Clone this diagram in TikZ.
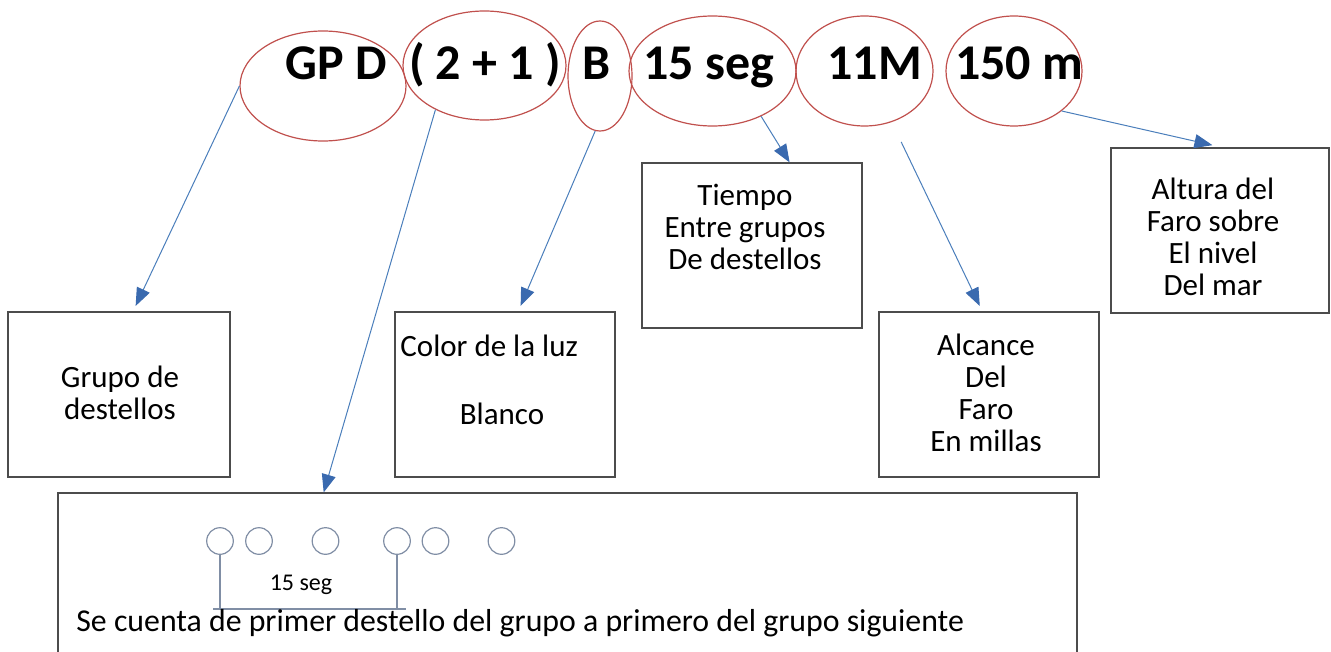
\documentclass[tikz,border=0pt]{standalone}
\usepackage{fontspec}
\setmainfont{Carlito}
\usepackage{tikz}
\usetikzlibrary{positioning}
\usetikzlibrary{shapes}
\usetikzlibrary{arrows.meta}
\usetikzlibrary{calc}
\definecolor{ovalred}{RGB}{192,80,77}
\definecolor{arrowblue}{RGB}{74,126,187}
\definecolor{tipblue}{RGB}{58,106,175}
\definecolor{flashgray}{RGB}{128,142,165}
\tikzset{oval/.style={draw=ovalred, ellipse, line width=0.6pt, inner sep=0pt}}
\tikzset{code/.style={font=\bfseries\fontsize{25}{30}\selectfont, anchor=base, inner sep=0pt}}
\tikzset{box/.style={draw=black!70, line width=0.6pt, rectangle, inner sep=0pt, minimum height=82.5pt}}
\tikzset{txt/.style={font=\fontsize{15.5}{16}\selectfont, align=center, inner sep=0pt}}
\tikzset{pointer/.style={draw=arrowblue, line width=0.5pt, -{Triangle[length=9pt,width=7pt,color=tipblue]}}}
\tikzset{flash/.style={draw=flashgray, circle, minimum size=13.3pt, inner sep=0pt, line width=0.6pt}}
\tikzset{bar/.style={draw=flashgray, line width=0.6pt}}

\begin{document}
\begin{tikzpicture}[x=0.5pt,y=-0.5pt]
\clip (0,0) rectangle (1331,652);
% the ovals round the code
\node[oval, minimum width=83pt, minimum height=55pt] (gpd) at (323,86) {};
\node[oval, minimum width=81.5pt, minimum height=54.5pt] (count) at (484.5,65.5) {};
\node[oval, minimum width=32pt, minimum height=55pt] (colour) at (600,76) {};
\node[oval, minimum width=83.5pt, minimum height=55pt] (period) at (712.5,71) {};
\node[oval, minimum width=68.5pt, minimum height=55pt] (range) at (864.5,71) {};
\node[oval, minimum width=68pt, minimum height=55pt] (height) at (1014,71) {};
\node[code] (gpdtxt) at (336.5,80) {GP D};
\node[code] (counttxt) at (485,80) {( 2 + 1 )};
\node[code] (colourtxt) at (597,80) {B};
\node[code] (periodtxt) at (708.5,80) {15 seg};
\node[code] (rangetxt) at (874.5,80) {11M};
\node[code] (heighttxt) at (1019,80) {150 m};
% the boxes
\node[box, minimum width=111pt] (grupo) at (119,394.5) {};
\node[box, minimum width=110pt] (luz) at (505,394.5) {};
\node[box, minimum width=110pt] (tiempo) at (752,245.5) {};
\node[box, minimum width=110pt] (alcance) at (989,394.5) {};
\node[box, minimum width=109pt] (altura) at (1220,230.5) {};
\node[box, minimum width=509.5pt, minimum height=88.5pt] (ejemplo) at (567.5,581.5) {};
\node[txt] (grupotxt) at (120,393) {Grupo de\\destellos};
\node[txt, anchor=base west] (luztxt) at (400,356) {Color de la luz};
\node[txt, anchor=base] (blanco) at (502,424) {Blanco};
\node[txt] (tiempotxt) at (745,227) {Tiempo\\Entre grupos\\De destellos};
\node[txt] (alcancetxt) at (986,393) {Alcance\\Del\\Faro\\En millas};
\node[txt] (alturatxt) at (1213,237) {Altura del\\Faro sobre\\El nivel\\Del mar};
% arrows
\draw[pointer, shorten >=3pt] (gpd.west) -- ($(grupo.north west)!0.563!(grupo.north east)$);
\draw[pointer] (count.222.7) -- ($(ejemplo.north west)!0.261!(ejemplo.north east)$);
\draw[pointer, shorten >=3pt] (colour.265) -- ($(luz.north west)!0.56!(luz.north east)$);
\draw[pointer] (period.-43) -- ($(tiempo.north west)!0.67!(tiempo.north east)$);
\draw[pointer, shorten <=11pt, shorten >=3pt] (range.-62) -- ($(alcance.north west)!0.47!(alcance.north east)$);
\draw[pointer, shorten >=5pt] (height.-40) -- ($(altura.north west)!0.51!(altura.north east)$);
% flashes
\foreach \x [count=\i] in {220,259,325.5,397,435.5,501.5}
  \node[flash] (f\i) at (\x,541) {};
\coordinate (barL) at (213,609);
\coordinate (barR) at (406,609);
\draw[bar] (f1.south) -- (f1.south |- barL);
\draw[bar] (f4.south) -- (f4.south |- barL);
\draw[bar] (barL) -- (barR);
\node[font=\fontsize{12}{14}\selectfont, anchor=base, inner sep=0pt] (gap) at (301,590) {15 seg};
\node[txt, font=\fontsize{15.9}{16}\selectfont, anchor=base west] (regla) at (76,631) {Se cuenta de primer destello del grupo a primero del grupo siguiente};
\end{tikzpicture}
\end{document}
